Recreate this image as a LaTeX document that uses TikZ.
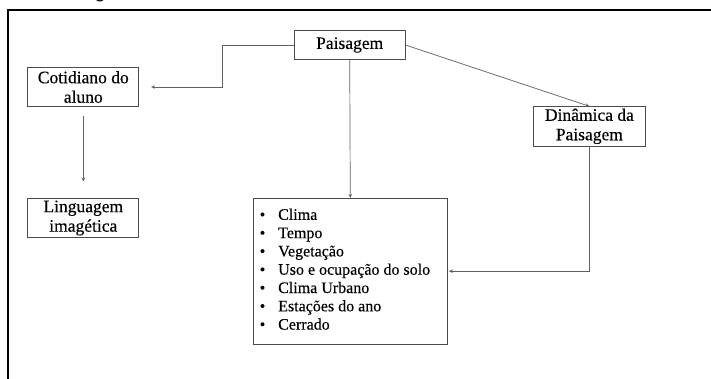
\documentclass[tikz,border=0pt]{standalone}
\usepackage{fontspec}
\setmainfont{Liberation Serif}
\newfontfamily\tnr[FakeBold=0.3]{Liberation Serif}
\newfontfamily\sansg{Carlito}
\usetikzlibrary{arrows.meta}
\begin{document}
\begin{tikzpicture}[x=1pt,y=-1pt,
  box/.style={draw=black!70, line width=0.7pt, inner sep=0pt, font=\tnr\fontsize{17.5}{19.5}\selectfont, align=center, text=black},
  conn/.style={draw=black!62, line width=0.7pt, -{Stealth[length=4pt,width=3.5pt]}},
  frame/.style={draw=black, line width=2pt}]
\useasboundingbox (0,0) rectangle (711,378);
\fill[white] (0,0) rectangle (711,378);
% cut-off fragment at top
\node[anchor=base, font=\sansg\fontsize{20}{20}\selectfont, inner sep=0pt] (frag) at (100,-1.5) {g};
% frame
\draw[frame] (7.7,400) -- (7.7,10) -- (720,10);
% boxes
\node[box, minimum width=111pt, minimum height=29pt] (pais) at (349.7,45) {Paisagem};
\node[box, minimum width=111pt, minimum height=39.4pt] (cot) at (83.3,87) {Cotidiano do\\aluno};
\node[box, minimum width=111pt, minimum height=39.4pt] (ling) at (83.3,218) {Linguagem\\imagética};
\node[box, minimum width=112pt, minimum height=39.3pt] (din) at (589.4,126.3) {Dinâmica da\\Paisagem};
\node[box, minimum width=194.6pt, minimum height=145.7pt] (list) at (350.3,271.2) {};
\node[anchor=north west, inner sep=0pt, align=left, font=\tnr\fontsize{16}{18.3}\selectfont] (items) at (259.5,208.5)
 {\makebox[18.5pt][l]{•}Clima\\
  \makebox[18.5pt][l]{•}Tempo\\
  \makebox[18.5pt][l]{•}Vegetação\\
  \makebox[18.5pt][l]{•}Uso e ocupação do solo\\
  \makebox[18.5pt][l]{•}Clima Urbano\\
  \makebox[18.5pt][l]{•}Estações do ano\\
  \makebox[18.5pt][l]{•}Cerrado};
% connectors
\draw[conn] (pais.west) -- ++(-72,0) |- ([xshift=12pt]cot.east);
\draw[conn, shorten <=9pt, shorten >=16.5pt] (cot) -- (ling);
\draw[conn] (pais.south) -- (list.north);
\draw[conn] (pais.east) -- (din.north);
\draw[conn] (din.south) |- ([xshift=1pt]list.east);
\end{tikzpicture}
\end{document}
